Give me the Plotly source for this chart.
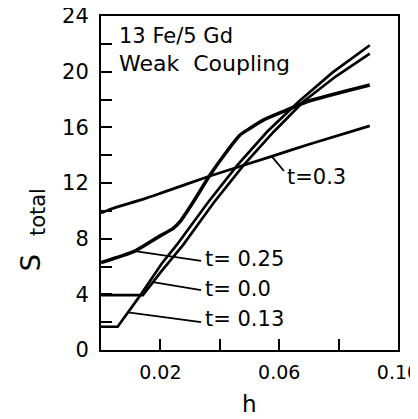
import plotly.graph_objects as go
import numpy as np

# ---- data ----
h_t030 = [0.0, 0.0036, 0.0137, 0.0199, 0.0367, 0.058, 0.0704, 0.0905]
s_t030 = [9.84, 10.15, 10.8, 11.25, 12.5, 13.95, 14.8, 16.1]

h_t025 = [0.0, 0.0114, 0.0199, 0.0243, 0.0266, 0.0311, 0.0367, 0.0423, 0.0468, 0.0502, 0.0546, 0.0625, 0.0693, 0.0905]
s_t025 = [6.29, 7.11, 8.2, 8.74, 9.22, 10.65, 12.57, 14.25, 15.45, 15.93, 16.52, 17.24, 17.84, 19.04]

h_t000 = [0.0, 0.0141, 0.0205, 0.0276, 0.038, 0.0481, 0.058, 0.0681, 0.079, 0.0905]
s_t000 = [3.95, 3.95, 5.7, 7.54, 10.6, 13.3, 15.65, 17.84, 19.65, 21.3]

h_t013 = [0.0, 0.0056, 0.0137, 0.0204, 0.0255, 0.036, 0.046, 0.056, 0.0666, 0.078, 0.0905]
s_t013 = [1.67, 1.67, 4.07, 6.2, 7.55, 10.6, 13.3, 15.7, 17.85, 19.95, 21.9]

x_tickvals = [0.02, 0.04, 0.06, 0.08, 0.10]
x_ticktext = ["0.02", "", "0.06", "", "0.10"]
y_tickvals = [0, 2, 4, 6, 8, 10, 12, 14, 16, 18, 20, 22, 24]
y_ticktext = ["0", "", "4", "", "8", "", "12", "", "16", "", "20", "", "24"]

# curve labels: text, h where the leader touches the curve, leader end (h, S), text start h
label_text = ["t=0.3", "t= 0.25", "t= 0.0", "t= 0.13"]
label_curve_h = [0.0575, 0.0114, 0.0175, 0.0091]
label_end_h = [0.0616, 0.0337, 0.0337, 0.0337]
label_end_s = [12.86, 6.4, 4.3, 2.0]
label_text_h = [0.0621, 0.0342, 0.0342, 0.0342]
label_text_s = [12.45, 6.55, 4.4, 2.2]

title_lines = ["13 Fe/5 Gd", "Weak\u00a0\u00a0Coupling"]
title_sizes = [21, 22]
title_s = [22.55, 20.6]
title_h = 0.0055

FONT = "DejaVu Sans"

curves = [
    (h_t030, s_t030, 2.8, "spline"),
    (h_t025, s_t025, 3.5, "spline"),
    (h_t000, s_t000, 2.7, "linear"),
    (h_t013, s_t013, 2.7, "linear"),
]

fig = go.Figure()
for hx, sy, w, shp in curves:
    fig.add_trace(go.Scatter(x=hx, y=sy, mode="lines",
                             line=dict(color="black", width=w, shape=shp, smoothing=0.6),
                             showlegend=False, hoverinfo="skip"))

curve_data = [(h_t030, s_t030), (h_t025, s_t025), (h_t000, s_t000), (h_t013, s_t013)]
for i, txt in enumerate(label_text):
    hx, sy = curve_data[i]
    s0 = float(np.interp(label_curve_h[i], hx, sy))
    fig.add_shape(type="line", xref="x", yref="y",
                  x0=label_curve_h[i], y0=s0, x1=label_end_h[i], y1=label_end_s[i],
                  line=dict(color="black", width=1.8))
    fig.add_annotation(x=label_text_h[i], y=label_text_s[i], xref="x", yref="y",
                       text=txt, showarrow=False, xanchor="left", yanchor="middle",
                       font=dict(family=FONT, size=21, color="black"))

for t, s, fs in zip(title_lines, title_s, title_sizes):
    fig.add_annotation(x=title_h, y=s, xref="x", yref="y", text=t, showarrow=False,
                       xanchor="left", yanchor="middle",
                       font=dict(family=FONT, size=fs, color="black"))

# axis titles
fig.add_annotation(x=0.5, y=-0.163, xref="paper", yref="paper", text="h", showarrow=False,
                   xanchor="center", yanchor="middle",
                   font=dict(family=FONT, size=23, color="black"))
fig.add_annotation(x=-0.239, y=0.26, xref="paper", yref="paper", text="S", showarrow=False,
                   textangle=-90, xanchor="center", yanchor="middle",
                   font=dict(family=FONT, size=27, color="black"))
fig.add_annotation(x=-0.212, y=0.413, xref="paper", yref="paper", text="total", showarrow=False,
                   textangle=-90, xanchor="center", yanchor="middle",
                   font=dict(family=FONT, size=21, color="black"))

axis_common = dict(showline=True, mirror=True, linecolor="black", linewidth=2,
                   ticks="inside", ticklen=11, tickwidth=2, tickcolor="black",
                   showgrid=False, zeroline=False, automargin=False,
                   ticklabeloverflow="allow")

fig.update_xaxes(range=[0, 0.10], tickvals=x_tickvals, ticktext=x_ticktext,
                 ticklabelstandoff=4, tickfont=dict(family=FONT, size=19, color="black"),
                 **axis_common)
fig.update_yaxes(range=[0, 24], tickvals=y_tickvals, ticktext=y_ticktext,
                 ticklabelstandoff=6, tickfont=dict(family=FONT, size=21, color="black"),
                 **axis_common)

# page body has an 8px margin; compensate so the plot box lands where the reference has it
fig.update_layout(width=410, height=411,
                  margin=dict(l=93, r=20, t=8, b=69),
                  paper_bgcolor="white", plot_bgcolor="white",
                  font=dict(family=FONT, color="black"))

fig.write_html("out.html")
